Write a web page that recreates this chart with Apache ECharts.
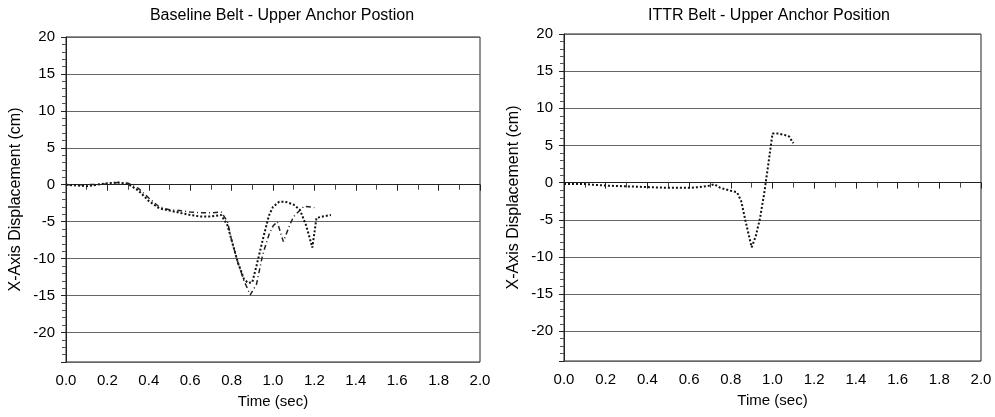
<!DOCTYPE html>
<html>
<head>
    <meta charset="utf-8">
    <title>Upper Anchor Position</title>
    <script src="https://cdn.jsdelivr.net/npm/echarts@6/dist/echarts.min.js"></script>
</head>
<body style="margin:0;background:#fff;">
    <div id="main" style="width:995px;height:417px;"></div>
    <script>
        // Baseline belt, two traces (time in sec, displacement in cm)
        var baseDotTime = [0, 0.05, 0.1, 0.15, 0.2, 0.25, 0.3, 0.35, 0.4, 0.45, 0.5, 0.55, 0.6, 0.65, 0.7, 0.75, 0.78, 0.8, 0.83, 0.86, 0.88, 0.9, 0.92, 0.95, 0.98, 1.0, 1.03, 1.06, 1.1, 1.13, 1.16, 1.19, 1.21, 1.24, 1.28];
        var baseDotVal = [0, -0.1, -0.2, 0, 0.2, 0.3, 0.1, -0.8, -2.2, -3.2, -3.5, -3.8, -4.1, -4.3, -4.3, -4.1, -5.5, -7.5, -10.5, -12.8, -13.3, -13.2, -11, -7.5, -4.2, -3, -2.3, -2.3, -2.7, -3.4, -5.5, -8.5, -4.5, -4.3, -4.1];
        var baseDashTime = [0, 0.1, 0.2, 0.25, 0.3, 0.35, 0.4, 0.45, 0.5, 0.55, 0.6, 0.65, 0.7, 0.75, 0.78, 0.8, 0.83, 0.86, 0.89, 0.92, 0.95, 0.98, 1.0, 1.02, 1.05, 1.08, 1.1, 1.15, 1.2];
        var baseDashVal = [0, 0, 0.1, 0.3, 0.2, -0.5, -1.8, -3, -3.4, -3.5, -3.7, -3.8, -3.8, -3.7, -5, -7.5, -10.5, -13, -14.9, -13.5, -9.5, -6.8, -5.6, -5, -7.7, -5.5, -4.3, -2.9, -3.1];

        // ITTR belt
        var ittrTime = [0, 0.05, 0.1, 0.15, 0.2, 0.3, 0.4, 0.5, 0.6, 0.65, 0.7, 0.72, 0.75, 0.8, 0.83, 0.85, 0.87, 0.89, 0.9, 0.92, 0.94, 0.96, 0.98, 1.0, 1.03, 1.06, 1.08, 1.1];
        var ittrVal = [-0.2, -0.2, -0.2, -0.3, -0.4, -0.5, -0.6, -0.7, -0.7, -0.6, -0.4, -0.2, -0.7, -1.1, -1.3, -2.5, -5.1, -7.5, -8.7, -7.2, -4.8, -1.5, 2.5, 6.6, 6.6, 6.4, 6.2, 5.3];

        var titles = ['Baseline Belt - Upper Anchor Postion', 'ITTR Belt - Upper Anchor Position'];

        function pairs(t, v) {
            return t.map(function (x, i) { return [x, v[i]]; });
        }

        var FONT = 'Liberation Sans';

        function makeX(idx) {
            return {
                type: 'value',
                gridIndex: idx,
                min: 0,
                max: 2,
                interval: 0.2,
                name: 'Time (sec)',
                nameLocation: 'middle',
                nameGap: 32,
                nameTextStyle: { color: '#000', fontSize: 15, fontFamily: FONT },
                axisLine: { lineStyle: { color: '#222', width: 1 } },
                axisTick: { length: 6, lineStyle: { color: '#222' } },
                minorTick: { show: true, splitNumber: 2, length: 5, lineStyle: { color: '#444' } },
                axisLabel: {
                    color: '#000', fontSize: 15, fontFamily: FONT, margin: 11,
                    formatter: function (v) { return v.toFixed(1); }
                },
                splitLine: { show: false }
            };
        }

        function makeY(idx) {
            return {
                type: 'value',
                gridIndex: idx,
                min: -24,
                max: 20,
                splitNumber: 9,
                name: 'X-Axis Displacement (cm)',
                nameLocation: 'middle',
                nameGap: 42,
                nameTextStyle: { color: '#000', fontSize: 16, fontFamily: FONT },
                axisLine: { lineStyle: { color: '#222', width: 1 } },
                axisTick: { length: 5, lineStyle: { color: '#222' } },
                minorTick: { show: true, splitNumber: 5, length: 4, lineStyle: { color: '#555' } },
                axisLabel: {
                    color: '#000', fontSize: 15, fontFamily: FONT, margin: 11,
                    formatter: function (v) { return v % 5 === 0 ? String(v) : ''; }
                },
                splitLine: { show: true, lineStyle: { color: '#666', width: 1 } }
            };
        }

        var chart = echarts.init(document.getElementById('main'));
        var option = {
            animation: false,
            backgroundColor: '#fff',
            title: [
                { text: titles[0], left: 277, top: 3, textAlign: 'center',
                  textStyle: { fontSize: 16, fontWeight: 'normal', color: '#000', fontFamily: FONT } },
                { text: titles[1], left: 764, top: 3, textAlign: 'center',
                  textStyle: { fontSize: 16, fontWeight: 'normal', color: '#000', fontFamily: FONT } }
            ],
            grid: [
                { left: 66, right: 515, top: 37, bottom: 55, show: true, borderColor: '#222', borderWidth: 1, backgroundColor: 'transparent' },
                { left: 564, right: 14, top: 34, bottom: 56, show: true, borderColor: '#222', borderWidth: 1, backgroundColor: 'transparent' }
            ],
            xAxis: [makeX(0), makeX(1)],
            yAxis: [makeY(0), makeY(1)],
            series: [
                {
                    type: 'line', xAxisIndex: 0, yAxisIndex: 0,
                    data: pairs(baseDotTime, baseDotVal),
                    showSymbol: false,
                    lineStyle: { color: '#111', width: 2, type: 'dotted' }
                },
                {
                    type: 'line', xAxisIndex: 0, yAxisIndex: 0,
                    data: pairs(baseDashTime, baseDashVal),
                    showSymbol: false,
                    lineStyle: { color: '#222', width: 1.5, type: [5, 3, 1, 3] }
                },
                {
                    type: 'line', xAxisIndex: 1, yAxisIndex: 1,
                    data: pairs(ittrTime, ittrVal),
                    showSymbol: false,
                    lineStyle: { color: '#111', width: 2, type: 'dotted' }
                }
            ]
        };
        chart.setOption(option);
    </script>
</body>
</html>
